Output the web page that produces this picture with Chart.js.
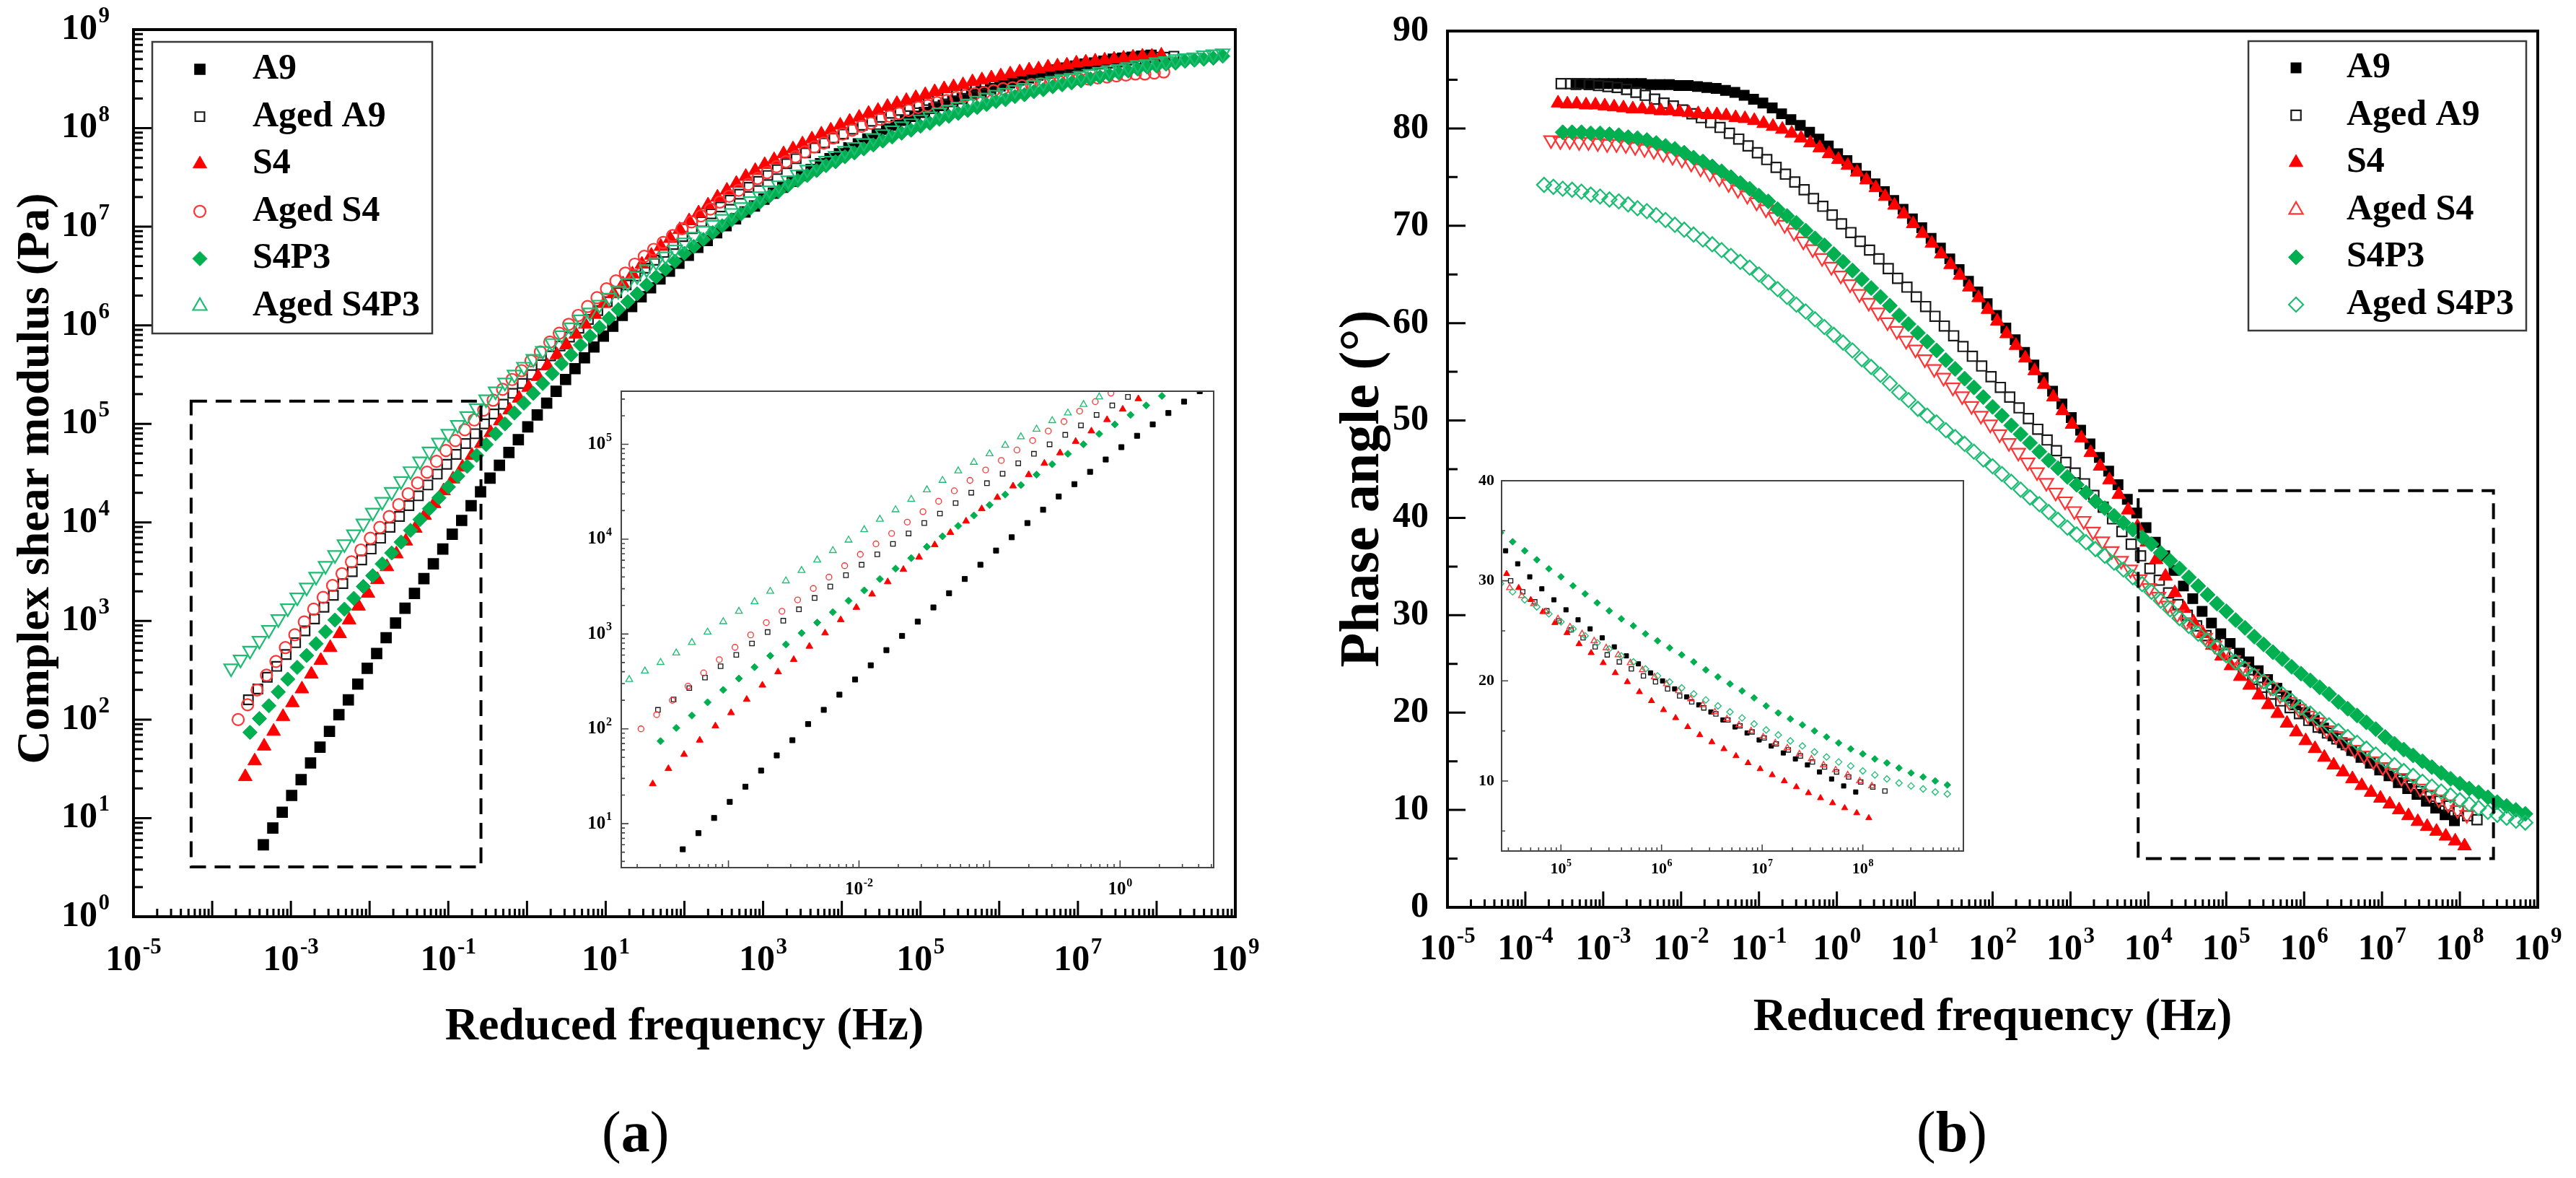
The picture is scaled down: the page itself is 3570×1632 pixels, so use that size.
<!DOCTYPE html>
<html>
<head>
<meta charset="utf-8">
<title>Complex shear modulus and phase angle master curves</title>
<script src="https://cdn.jsdelivr.net/npm/chart.js@4.4.1/dist/chart.umd.min.js"></script>
<style>
  html, body { margin: 0; padding: 0; background: #ffffff; }
  #figura { position: relative; width: 3570px; height: 1632px; overflow: hidden; background: #ffffff; }
  #figura canvas { position: absolute; }
  .rotulo { position: absolute; font-family: "Liberation Serif", "Times New Roman", serif; font-size: 80px; line-height: 1; color: #000; white-space: nowrap; }
</style>
</head>
<body>
<div id="figura">
  <canvas id="graficaModulo" width="1785" height="1632" style="left:0;top:0"></canvas>
  <canvas id="graficaFase" width="1785" height="1632" style="left:1785px;top:0"></canvas>
  <canvas id="insetModulo" width="930" height="740" style="left:780px;top:520px"></canvas>
  <canvas id="insetFase" width="740" height="600" style="left:2010px;top:640px"></canvas>
  <div class="rotulo" style="left:834px;top:1528px">(<b>a</b>)</div>
  <div class="rotulo" style="left:2656px;top:1528px">(<b>b</b>)</div>
</div>
<script>
/* ==========================================================================
   DATOS: log10 frecuencia reducida (Hz), log10 |G*| (Pa), ángulo de fase (°)
   ========================================================================== */
const frecA9 = [-3.35,-3.23,-3.11,-2.99,-2.87,-2.75,-2.63,-2.51,-2.39,-2.27,-2.15,-2.03,-1.91,-1.79,-1.67,-1.55,-1.43,-1.31,-1.19,-1.07,-0.95,-0.83,-0.71,-0.59,-0.47,-0.35,-0.23,-0.11,0.01,0.13,0.25,0.37,0.49,0.61,0.73,0.85,0.97,1.09,1.21,1.33,1.45,1.57,1.69,1.81,1.93,2.05,2.17,2.29,2.41,2.53,2.65,2.77,2.89,3.01,3.13,3.25,3.37,3.49,3.61,3.73,3.85,3.97,4.09,4.21,4.33,4.45,4.57,4.69,4.81,4.93,5.05,5.17,5.29,5.41,5.53,5.65,5.77,5.89,6.01,6.13,6.25,6.37,6.49,6.61,6.73,6.85,6.97,7.09,7.21,7.33,7.45,7.57,7.69,7.81,7.93];
const moduloA9 = [0.73,0.9,1.06,1.23,1.39,1.56,1.72,1.88,2.05,2.2,2.36,2.52,2.67,2.83,2.98,3.13,3.28,3.43,3.58,3.73,3.88,4.02,4.17,4.31,4.45,4.58,4.71,4.84,4.97,5.09,5.21,5.33,5.45,5.56,5.67,5.78,5.89,5.99,6.1,6.19,6.29,6.38,6.47,6.55,6.63,6.71,6.79,6.86,6.94,7.01,7.08,7.15,7.21,7.28,7.34,7.4,7.46,7.52,7.58,7.64,7.69,7.74,7.8,7.84,7.89,7.94,7.99,8.03,8.08,8.12,8.16,8.2,8.23,8.27,8.3,8.34,8.37,8.4,8.43,8.46,8.49,8.51,8.54,8.56,8.59,8.61,8.63,8.65,8.66,8.68,8.7,8.71,8.72,8.73,8.74];
const faseA9 = [84.5,84.6,84.6,84.6,84.6,84.6,84.6,84.6,84.5,84.5,84.5,84.4,84.4,84.3,84.2,84.1,83.9,83.7,83.4,83.0,82.6,82.1,81.5,80.9,80.3,79.6,78.9,78.2,77.4,76.7,75.9,75.1,74.3,73.5,72.6,71.7,70.7,69.8,68.7,67.7,66.6,65.5,64.3,63.2,62.0,60.8,59.5,58.3,57.0,55.7,54.4,53.0,51.7,50.3,49.0,47.6,46.2,44.8,43.4,41.9,40.5,39.0,37.5,36.1,34.6,33.0,31.7,30.4,29.2,28.1,27.1,26.1,25.2,24.3,23.4,22.5,21.7,20.8,20.0,19.2,18.4,17.6,16.9,16.1,15.4,14.8,14.1,13.5,12.8,12.2,11.6,10.9,10.2,9.5,8.9];

const frecA9Env = [-3.54,-3.42,-3.3,-3.18,-3.06,-2.94,-2.82,-2.7,-2.58,-2.46,-2.34,-2.22,-2.1,-1.98,-1.86,-1.74,-1.62,-1.5,-1.38,-1.26,-1.14,-1.02,-0.9,-0.78,-0.66,-0.54,-0.42,-0.3,-0.18,-0.06,0.06,0.18,0.3,0.42,0.54,0.66,0.78,0.9,1.02,1.14,1.26,1.38,1.5,1.62,1.74,1.86,1.98,2.1,2.22,2.34,2.46,2.58,2.7,2.82,2.94,3.06,3.18,3.3,3.42,3.54,3.66,3.78,3.9,4.02,4.14,4.26,4.38,4.5,4.62,4.74,4.86,4.98,5.1,5.22,5.34,5.46,5.58,5.7,5.82,5.94,6.06,6.18,6.3,6.42,6.54,6.66,6.78,6.9,7.02,7.14,7.26,7.38,7.5,7.62,7.74,7.86,7.98,8.1,8.22];
const moduloA9Env = [2.2,2.31,2.43,2.54,2.66,2.78,2.9,3.02,3.14,3.26,3.38,3.5,3.62,3.73,3.84,3.95,4.06,4.17,4.27,4.38,4.49,4.59,4.69,4.8,4.9,5.0,5.1,5.2,5.31,5.41,5.5,5.6,5.69,5.79,5.88,5.97,6.06,6.15,6.24,6.33,6.41,6.5,6.58,6.66,6.74,6.82,6.9,6.98,7.05,7.13,7.2,7.27,7.33,7.4,7.46,7.52,7.58,7.64,7.69,7.75,7.8,7.85,7.9,7.94,7.99,8.03,8.07,8.11,8.15,8.18,8.22,8.25,8.28,8.31,8.34,8.37,8.39,8.42,8.44,8.47,8.49,8.51,8.53,8.55,8.56,8.58,8.6,8.61,8.63,8.64,8.65,8.66,8.67,8.69,8.7,8.71,8.72,8.72,8.73];
const faseA9Env = [84.6,84.6,84.6,84.5,84.4,84.3,84.2,84.0,83.7,83.4,83.0,82.6,82.3,81.9,81.5,81.1,80.6,80.1,79.5,78.9,78.2,77.5,76.8,76.0,75.3,74.5,73.7,72.8,72.0,71.1,70.2,69.3,68.4,67.5,66.6,65.6,64.6,63.7,62.7,61.7,60.7,59.7,58.7,57.6,56.6,55.6,54.5,53.4,52.4,51.3,50.2,49.1,48.0,46.9,45.7,44.6,43.5,42.3,41.1,39.9,38.6,37.3,36.1,34.8,33.6,32.3,31.1,30.0,28.9,27.9,27.0,26.0,25.1,24.3,23.4,22.6,21.9,21.2,20.5,19.9,19.2,18.5,17.9,17.3,16.7,16.1,15.5,14.9,14.3,13.7,13.1,12.5,11.9,11.4,10.9,10.4,9.9,9.4,9.0];

const frecS4 = [-3.58,-3.46,-3.34,-3.22,-3.1,-2.98,-2.86,-2.74,-2.62,-2.5,-2.38,-2.26,-2.14,-2.02,-1.9,-1.78,-1.66,-1.54,-1.42,-1.3,-1.18,-1.06,-0.94,-0.82,-0.7,-0.58,-0.46,-0.34,-0.22,-0.1,0.02,0.14,0.26,0.38,0.5,0.62,0.74,0.86,0.98,1.1,1.22,1.34,1.46,1.58,1.7,1.82,1.94,2.06,2.18,2.3,2.42,2.54,2.66,2.78,2.9,3.02,3.14,3.26,3.38,3.5,3.62,3.74,3.86,3.98,4.1,4.22,4.34,4.46,4.58,4.7,4.82,4.94,5.06,5.18,5.3,5.42,5.54,5.66,5.78,5.9,6.02,6.14,6.26,6.38,6.5,6.62,6.74,6.86,6.98,7.1,7.22,7.34,7.46,7.58,7.7,7.82,7.94,8.06];
const moduloS4 = [1.42,1.58,1.73,1.88,2.03,2.17,2.31,2.46,2.6,2.73,2.87,3.01,3.15,3.28,3.42,3.55,3.68,3.81,3.94,4.07,4.19,4.32,4.44,4.56,4.68,4.8,4.91,5.03,5.14,5.26,5.37,5.48,5.59,5.7,5.8,5.91,6.01,6.11,6.22,6.32,6.42,6.52,6.62,6.71,6.8,6.88,6.97,7.06,7.14,7.22,7.3,7.37,7.44,7.51,7.57,7.63,7.68,7.74,7.79,7.84,7.89,7.94,7.98,8.03,8.07,8.11,8.15,8.18,8.22,8.25,8.28,8.31,8.34,8.37,8.4,8.42,8.44,8.47,8.49,8.51,8.53,8.55,8.57,8.59,8.6,8.62,8.63,8.64,8.66,8.67,8.68,8.69,8.7,8.71,8.72,8.73,8.73,8.74];
const faseS4 = [82.6,82.5,82.5,82.4,82.4,82.3,82.2,82.1,82.0,82.0,81.9,81.8,81.8,81.7,81.6,81.5,81.4,81.4,81.3,81.1,81.0,80.8,80.5,80.2,79.9,79.5,79.0,78.5,78.0,77.4,76.8,76.2,75.5,74.7,73.9,73.0,72.1,71.2,70.2,69.2,68.2,67.1,66.0,64.9,63.7,62.6,61.4,60.2,58.9,57.7,56.4,55.1,53.7,52.4,51.0,49.6,48.2,46.7,45.3,43.9,42.4,40.8,39.1,37.5,35.7,34.0,32.3,30.7,29.3,28.1,26.9,25.8,24.8,23.7,22.8,21.8,20.8,19.9,18.9,18.0,17.1,16.3,15.4,14.6,13.9,13.2,12.5,11.8,11.2,10.6,10.0,9.4,8.8,8.3,7.8,7.3,6.8,6.3];

const frecS4Env = [-3.67,-3.55,-3.43,-3.31,-3.19,-3.07,-2.95,-2.83,-2.71,-2.59,-2.47,-2.35,-2.23,-2.11,-1.99,-1.87,-1.75,-1.63,-1.51,-1.39,-1.27,-1.15,-1.03,-0.91,-0.79,-0.67,-0.55,-0.43,-0.31,-0.19,-0.07,0.05,0.17,0.29,0.41,0.53,0.65,0.77,0.89,1.01,1.13,1.25,1.37,1.49,1.61,1.73,1.85,1.97,2.09,2.21,2.33,2.45,2.57,2.69,2.81,2.93,3.05,3.17,3.29,3.41,3.53,3.65,3.77,3.89,4.01,4.13,4.25,4.37,4.49,4.61,4.73,4.85,4.97,5.09,5.21,5.33,5.45,5.57,5.69,5.81,5.93,6.05,6.17,6.29,6.41,6.53,6.65,6.77,6.89,7.01,7.13,7.25,7.37,7.49,7.61,7.73,7.85,7.97,8.09];
const moduloS4Env = [2.0,2.15,2.3,2.45,2.59,2.73,2.86,2.99,3.12,3.24,3.36,3.48,3.6,3.72,3.84,3.95,4.06,4.18,4.29,4.4,4.51,4.62,4.73,4.83,4.94,5.04,5.14,5.24,5.35,5.45,5.54,5.64,5.73,5.83,5.92,6.01,6.1,6.19,6.28,6.37,6.45,6.53,6.62,6.7,6.77,6.84,6.91,6.98,7.05,7.11,7.18,7.25,7.31,7.37,7.43,7.49,7.55,7.61,7.66,7.71,7.76,7.81,7.85,7.9,7.94,7.98,8.02,8.05,8.09,8.12,8.15,8.18,8.21,8.23,8.26,8.28,8.31,8.33,8.35,8.36,8.38,8.4,8.41,8.43,8.44,8.45,8.46,8.47,8.49,8.5,8.5,8.51,8.52,8.53,8.54,8.55,8.55,8.56,8.57];
const faseS4Env = [78.8,78.7,78.7,78.6,78.6,78.5,78.4,78.4,78.3,78.1,77.9,77.7,77.4,77.1,76.8,76.4,75.9,75.4,74.9,74.3,73.7,73.1,72.4,71.7,70.9,70.1,69.3,68.4,67.6,66.7,65.8,64.9,64.0,63.0,62.1,61.1,60.1,59.2,58.2,57.3,56.3,55.3,54.4,53.4,52.5,51.5,50.5,49.6,48.6,47.7,46.7,45.7,44.7,43.6,42.6,41.7,40.7,39.7,38.6,37.6,36.6,35.6,34.7,33.7,32.8,31.9,31.0,30.1,29.3,28.5,27.7,26.9,26.2,25.4,24.7,24.0,23.3,22.6,21.8,21.1,20.4,19.7,19.0,18.2,17.6,16.9,16.2,15.6,15.0,14.4,13.8,13.3,12.7,12.2,11.6,11.1,10.6,10.0,9.5];

const frecS4P3 = [-3.52,-3.4,-3.28,-3.16,-3.04,-2.92,-2.8,-2.68,-2.56,-2.44,-2.32,-2.2,-2.08,-1.96,-1.84,-1.72,-1.6,-1.48,-1.36,-1.24,-1.12,-1.0,-0.88,-0.76,-0.64,-0.52,-0.4,-0.28,-0.16,-0.04,0.08,0.2,0.32,0.44,0.56,0.68,0.8,0.92,1.04,1.16,1.28,1.4,1.52,1.64,1.76,1.88,2.0,2.12,2.24,2.36,2.48,2.6,2.72,2.84,2.96,3.08,3.2,3.32,3.44,3.56,3.68,3.8,3.92,4.04,4.16,4.28,4.4,4.52,4.64,4.76,4.88,5.0,5.12,5.24,5.36,5.48,5.6,5.72,5.84,5.96,6.08,6.2,6.32,6.44,6.56,6.68,6.8,6.92,7.04,7.16,7.28,7.4,7.52,7.64,7.76,7.88,8.0,8.12,8.24,8.36,8.48,8.6,8.72,8.84];
const moduloS4P3 = [1.87,2.01,2.14,2.28,2.41,2.53,2.65,2.77,2.89,3.01,3.12,3.23,3.35,3.46,3.58,3.69,3.8,3.92,4.03,4.14,4.25,4.36,4.47,4.57,4.68,4.79,4.9,5.0,5.11,5.21,5.31,5.41,5.51,5.61,5.7,5.8,5.89,5.98,6.07,6.16,6.24,6.32,6.41,6.49,6.57,6.65,6.73,6.8,6.87,6.94,7.01,7.07,7.13,7.19,7.25,7.31,7.36,7.42,7.47,7.52,7.57,7.62,7.66,7.71,7.75,7.79,7.83,7.87,7.91,7.95,7.98,8.02,8.05,8.09,8.12,8.15,8.18,8.21,8.24,8.27,8.29,8.32,8.34,8.37,8.39,8.42,8.44,8.46,8.48,8.5,8.52,8.54,8.56,8.58,8.6,8.62,8.63,8.65,8.66,8.68,8.69,8.7,8.71,8.73];
const faseS4P3 = [79.6,79.6,79.6,79.5,79.5,79.4,79.3,79.1,79.0,78.8,78.5,78.2,77.9,77.5,77.0,76.6,76.1,75.6,75.0,74.4,73.8,73.1,72.5,71.7,71.0,70.3,69.5,68.7,68.0,67.1,66.3,65.4,64.5,63.6,62.7,61.8,60.8,59.9,59.0,58.1,57.2,56.2,55.3,54.3,53.4,52.4,51.4,50.5,49.5,48.6,47.7,46.8,45.9,45.1,44.2,43.4,42.6,41.7,41.0,40.2,39.5,38.8,38.0,37.3,36.4,35.6,34.8,33.9,33.0,32.1,31.2,30.4,29.5,28.7,27.8,27.0,26.2,25.5,24.7,24.0,23.3,22.6,21.9,21.1,20.4,19.7,19.0,18.3,17.5,16.8,16.2,15.6,15.0,14.4,13.8,13.2,12.7,12.2,11.8,11.3,10.8,10.4,10.0,9.6];

const frecS4P3Env = [-3.76,-3.64,-3.52,-3.4,-3.28,-3.16,-3.04,-2.92,-2.8,-2.68,-2.56,-2.44,-2.32,-2.2,-2.08,-1.96,-1.84,-1.72,-1.6,-1.48,-1.36,-1.24,-1.12,-1.0,-0.88,-0.76,-0.64,-0.52,-0.4,-0.28,-0.16,-0.04,0.08,0.2,0.32,0.44,0.56,0.68,0.8,0.92,1.04,1.16,1.28,1.4,1.52,1.64,1.76,1.88,2.0,2.12,2.24,2.36,2.48,2.6,2.72,2.84,2.96,3.08,3.2,3.32,3.44,3.56,3.68,3.8,3.92,4.04,4.16,4.28,4.4,4.52,4.64,4.76,4.88,5.0,5.12,5.24,5.36,5.48,5.6,5.72,5.84,5.96,6.08,6.2,6.32,6.44,6.56,6.68,6.8,6.92,7.04,7.16,7.28,7.4,7.52,7.64,7.76,7.88,8.0,8.12,8.24,8.36,8.48,8.6,8.72,8.84];
const moduloS4P3Env = [2.52,2.61,2.7,2.8,2.91,3.02,3.13,3.24,3.34,3.45,3.56,3.67,3.78,3.88,3.99,4.1,4.21,4.31,4.42,4.52,4.62,4.72,4.81,4.9,4.99,5.08,5.16,5.25,5.33,5.42,5.5,5.58,5.66,5.74,5.82,5.9,5.98,6.06,6.13,6.21,6.28,6.35,6.43,6.5,6.57,6.64,6.7,6.77,6.84,6.9,6.96,7.02,7.08,7.14,7.2,7.26,7.31,7.37,7.42,7.47,7.53,7.58,7.63,7.67,7.72,7.77,7.81,7.85,7.9,7.94,7.98,8.02,8.05,8.09,8.12,8.16,8.19,8.22,8.25,8.28,8.31,8.34,8.36,8.39,8.41,8.44,8.46,8.48,8.5,8.51,8.53,8.55,8.57,8.59,8.6,8.62,8.64,8.65,8.67,8.68,8.7,8.71,8.72,8.74,8.75,8.76];
const faseS4P3Env = [74.2,74.0,73.8,73.7,73.5,73.2,73.0,72.7,72.5,72.2,71.8,71.5,71.1,70.6,70.1,69.6,69.1,68.6,68.1,67.5,66.9,66.3,65.7,65.0,64.2,63.5,62.7,61.9,61.2,60.4,59.6,58.8,58.0,57.2,56.3,55.5,54.7,53.8,52.9,52.1,51.2,50.5,49.8,49.0,48.3,47.6,46.8,46.0,45.3,44.5,43.7,42.9,42.1,41.4,40.6,39.8,39.0,38.3,37.5,36.8,36.1,35.4,34.7,33.9,33.2,32.4,31.5,30.6,29.7,28.9,28.1,27.4,26.7,25.9,25.2,24.5,23.8,23.2,22.5,21.9,21.2,20.5,19.9,19.3,18.7,18.1,17.5,16.9,16.3,15.7,15.1,14.6,14.0,13.5,12.9,12.4,11.9,11.5,11.0,10.6,10.2,9.8,9.5,9.2,8.9,8.7];

const nombresMuestras = ['A9', 'Aged A9', 'S4', 'Aged S4', 'S4P3', 'Aged S4P3'];

// Etiquetas de los ejes (exponentes de 10 o valores lineales)
const etiquetasModulo = [0, 1, 2, 3, 4, 5, 6, 7, 8, 9];
const etiquetasFrecA = [-5, -3, -1, 1, 3, 5, 7, 9];
const etiquetasFrecB = [-5, -4, -3, -2, -1, 0, 1, 2, 3, 4, 5, 6, 7, 8, 9];
const etiquetasFase = [0, 10, 20, 30, 40, 50, 60, 70, 80, 90];
const etiquetasModuloInset = [1, 2, 3, 4, 5];
const etiquetasFrecInsetA = [-2, 0];
const etiquetasFrecInsetB = [5, 6, 7, 8];
const etiquetasFaseInset = [10, 20, 30, 40];

// Recuadros discontinuos de la zona ampliada: [fMin, fMax, yMin, yMax]
const recuadroA = [5.4e-5, 0.26, 3.2, 1.7e5];
const recuadroB = [7.4e3, 2.7e8, 5.0, 42.8];

/* ==========================================================================
   ESTILOS Y UTILIDADES
   ========================================================================== */
const SERIF = '"Liberation Serif", "Times New Roman", Times, serif';
Chart.defaults.font.family = SERIF;

const series = [
    { frec: frecA9, modulo: moduloA9, fase: faseA9 },
    { frec: frecA9Env, modulo: moduloA9Env, fase: faseA9Env },
    { frec: frecS4, modulo: moduloS4, fase: faseS4 },
    { frec: frecS4Env, modulo: moduloS4Env, fase: faseS4Env },
    { frec: frecS4P3, modulo: moduloS4P3, fase: faseS4P3 },
    { frec: frecS4P3Env, modulo: moduloS4P3Env, fase: faseS4P3Env }
];

const estilos = [
    { color: '#000000', relleno: true,  formaA: 'rect',     formaB: 'rect',     giroA: 0,   giroB: 0,   radioA: 10, radioB: 9.5,  borde: 1.5, orden: 6 },
    { color: '#1a1a1a', relleno: false, formaA: 'rect',     formaB: 'rect',     giroA: 0,   giroB: 0,   radioA: 9,  radioB: 9.5,  borde: 2.2, orden: 5 },
    { color: '#ff0000', relleno: true,  formaA: 'triangle', formaB: 'triangle', giroA: 0,   giroB: 0,   radioA: 11, radioB: 11,   borde: 1,   orden: 4 },
    { color: '#ff3434', relleno: false, formaA: 'circle',   formaB: 'triangle', giroA: 0,   giroB: 180, radioA: 8,  radioB: 11,   borde: 2.2, orden: 3 },
    { color: '#00b050', relleno: true,  formaA: 'rectRot',  formaB: 'rectRot',  giroA: 0,   giroB: 0,   radioA: 10, radioB: 10.5, borde: 1,   orden: 2 },
    { color: '#1cbd73', relleno: false, formaA: 'triangle', formaB: 'rectRot',  giroA: 180, giroB: 0,   radioA: 11, radioB: 10,   borde: 2.2, orden: 1 }
];

function crearDatasets(panel, escala, enInset) {
    return series.map((s, i) => {
        const e = estilos[i];
        const esModulo = panel === 'A';
        const valores = esModulo ? s.modulo : s.fase;
        const puntos = s.frec.map((f, j) => ({
            x: Math.pow(10, f),
            y: esModulo ? Math.pow(10, valores[j]) : valores[j]
        }));
        const radio = (esModulo ? e.radioA : e.radioB) * escala;
        const ds = {
            label: nombresMuestras[i],
            data: puntos,
            showLine: false,
            pointStyle: esModulo ? e.formaA : e.formaB,
            pointRotation: enInset ? 0 : (esModulo ? e.giroA : e.giroB),
            pointRadius: radio,
            pointHoverRadius: radio,
            pointBackgroundColor: e.relleno ? e.color : 'rgba(0,0,0,0)',
            pointBorderColor: e.color,
            pointBorderWidth: enInset ? Math.max(1, e.borde * 0.6) : e.borde,
            order: e.orden
        };
        if (enInset) ds.clip = 0;
        return ds;
    });
}

function marcasLog(eMin, eMax, vMin, vMax, largoMayor, largoMenor) {
    const marcas = [];
    for (let e = eMin; e <= eMax; e++) {
        const base = Math.pow(10, e);
        if (base >= vMin * 0.999 && base <= vMax * 1.001) marcas.push({ v: base, largo: largoMayor });
        for (let k = 2; k <= 9; k++) {
            const v = k * base;
            if (v >= vMin && v <= vMax) marcas.push({ v: v, largo: largoMenor });
        }
    }
    return marcas;
}

function marcasLineales(min, max, paso, cadaMayor, largoMayor, largoMenor) {
    const marcas = [];
    for (let v = min; v <= max + 1e-9; v += paso) {
        const esMayor = Math.abs(v / cadaMayor - Math.round(v / cadaMayor)) < 1e-6;
        marcas.push({ v: v, largo: esMayor ? largoMayor : largoMenor });
    }
    return marcas;
}

function dibujarPotencia(ctx, x, y, exponente, tam, alineacion) {
    const fuenteBase = `bold ${tam}px ${SERIF}`;
    const fuenteExp = `bold ${Math.round(tam * 0.62)}px ${SERIF}`;
    const textoExp = String(exponente);
    ctx.font = fuenteBase;
    const anchoBase = ctx.measureText('10').width;
    ctx.font = fuenteExp;
    const anchoExp = ctx.measureText(textoExp).width;
    const hueco = tam * 0.03;
    const total = anchoBase + hueco + anchoExp;
    const x0 = alineacion === 'right' ? x - total : x - total / 2;
    ctx.textAlign = 'left';
    ctx.textBaseline = 'middle';
    ctx.font = fuenteBase;
    ctx.fillText('10', x0, y);
    ctx.font = fuenteExp;
    ctx.fillText(textoExp, x0 + anchoBase + hueco, y - tam * 0.36);
}

function dibujarTexto(ctx, x, y, texto, tam, alineacion) {
    ctx.font = `bold ${tam}px ${SERIF}`;
    ctx.textAlign = alineacion;
    ctx.textBaseline = 'middle';
    ctx.fillText(texto, x, y);
}

/* ==========================================================================
   PLUGIN: MARCO, MARCAS HACIA DENTRO, ETIQUETAS, TÍTULOS Y LEYENDA
   ========================================================================== */
const decoracion = {
    id: 'decoracion',
    afterDatasetsDraw(chart, args, op) {
        const ctx = chart.ctx;
        const area = chart.chartArea;
        const ex = chart.scales.x;
        const ey = chart.scales.y;
        ctx.save();

        if (op.recuadro) {
            const [x0, x1, y0, y1] = op.recuadro;
            const px0 = ex.getPixelForValue(x0);
            const px1 = ex.getPixelForValue(x1);
            const py0 = ey.getPixelForValue(y0);
            const py1 = ey.getPixelForValue(y1);
            ctx.setLineDash([22, 12]);
            ctx.lineWidth = 4;
            ctx.strokeStyle = '#000';
            ctx.strokeRect(px0, py1, px1 - px0, py0 - py1);
            ctx.setLineDash([]);
        }

        ctx.strokeStyle = op.colorEje;
        ctx.lineWidth = op.grosorMarca;
        ctx.beginPath();
        op.marcasX.forEach(m => {
            const p = ex.getPixelForValue(m.v);
            ctx.moveTo(p, area.bottom);
            ctx.lineTo(p, area.bottom - m.largo);
        });
        op.marcasY.forEach(m => {
            const p = ey.getPixelForValue(m.v);
            ctx.moveTo(area.left, p);
            ctx.lineTo(area.left + m.largo, p);
        });
        ctx.stroke();

        ctx.lineWidth = op.grosorMarco;
        ctx.strokeRect(area.left, area.top, area.right - area.left, area.bottom - area.top);

        ctx.fillStyle = '#000';
        op.etiquetasX.forEach(et => {
            const px = ex.getPixelForValue(et.v);
            if (et.exp !== undefined) dibujarPotencia(ctx, px, area.bottom + op.sepX, et.exp, op.tamEtiqueta, 'center');
            else dibujarTexto(ctx, px, area.bottom + op.sepX, et.texto, op.tamEtiqueta, 'center');
        });
        op.etiquetasY.forEach(et => {
            const py = ey.getPixelForValue(et.v);
            if (et.exp !== undefined) dibujarPotencia(ctx, area.left - op.sepY, py, et.exp, op.tamEtiqueta, 'right');
            else dibujarTexto(ctx, area.left - op.sepY, py, et.texto, op.tamEtiqueta, 'right');
        });

        if (op.tituloX) {
            ctx.font = `bold ${op.tituloX.tam}px ${SERIF}`;
            ctx.textAlign = 'center';
            ctx.textBaseline = 'alphabetic';
            ctx.fillText(op.tituloX.texto, (area.left + area.right) / 2, area.bottom + op.tituloX.sep);
        }
        if (op.tituloY) {
            ctx.save();
            ctx.translate(area.left - op.tituloY.sep, area.top + op.tituloY.centro);
            ctx.rotate(-Math.PI / 2);
            ctx.font = `bold ${op.tituloY.tam}px ${SERIF}`;
            ctx.textAlign = 'center';
            ctx.textBaseline = 'alphabetic';
            ctx.fillText(op.tituloY.texto, 0, 0);
            ctx.restore();
        }

        if (op.leyenda) {
            const L = op.leyenda;
            ctx.lineWidth = 2.5;
            ctx.strokeStyle = '#3a3a3a';
            ctx.strokeRect(L.x, L.y, L.ancho, L.alto);
            chart.data.datasets.forEach((ds, i) => {
                const yFila = L.primeraFila + i * L.paso;
                ctx.fillStyle = ds.pointBackgroundColor;
                ctx.strokeStyle = ds.pointBorderColor;
                ctx.lineWidth = ds.pointBorderWidth;
                Chart.helpers.drawPoint(ctx, {
                    pointStyle: ds.pointStyle,
                    rotation: 0,
                    radius: ds.pointRadius,
                    borderWidth: ds.pointBorderWidth
                }, L.xMarca, yFila);
                ctx.fillStyle = '#000';
                ctx.font = `bold ${L.tam}px ${SERIF}`;
                ctx.textAlign = 'left';
                ctx.textBaseline = 'middle';
                ctx.fillText(ds.label, L.xTexto, yFila);
            });
        }
        ctx.restore();
    }
};

function crearGrafica(idCanvas, datasets, escalaX, escalaY, relleno, deco) {
    return new Chart(document.getElementById(idCanvas), {
        type: 'scatter',
        data: { datasets: datasets },
        options: {
            responsive: false,
            animation: false,
            devicePixelRatio: 1,
            events: [],
            layout: { padding: relleno },
            plugins: { legend: { display: false }, tooltip: { enabled: false }, decoracion: deco },
            scales: { x: Object.assign({ display: false }, escalaX), y: Object.assign({ display: false }, escalaY) }
        },
        plugins: [decoracion]
    });
}

/* ==========================================================================
   PANEL (a): MÓDULO COMPLEJO
   ========================================================================== */
crearGrafica('graficaModulo', crearDatasets('A', 1, false),
    { type: 'logarithmic', min: 1e-5, max: 1e9 },
    { type: 'logarithmic', min: 1, max: 1e9 },
    { left: 185, top: 41, right: 73, bottom: 362 },
    {
        recuadro: recuadroA,
        colorEje: '#000', grosorMarca: 3, grosorMarco: 4,
        marcasX: marcasLog(-5, 9, 1e-5, 1e9, 22, 11),
        marcasY: marcasLog(0, 9, 1, 1e9, 25, 13),
        etiquetasX: etiquetasFrecA.map(e => ({ v: Math.pow(10, e), exp: e })),
        etiquetasY: etiquetasModulo.map(e => ({ v: Math.pow(10, e), exp: e })),
        tamEtiqueta: 50, sepX: 61, sepY: 33,
        tituloX: { texto: 'Reduced frequency (Hz)', tam: 64, sep: 170 },
        tituloY: { texto: 'Complex shear modulus (Pa)', tam: 64, sep: 118, centro: 622 },
        leyenda: { x: 211, y: 58, ancho: 388, alto: 404, primeraFila: 96, paso: 65.6, xMarca: 277, xTexto: 350, tam: 50 }
    });

crearGrafica('insetModulo', crearDatasets('A', 0.5, true),
    { type: 'logarithmic', min: 1.51e-4, max: 5.21 },
    { type: 'logarithmic', min: 3.44, max: 3.63e5 },
    { left: 81, top: 22, right: 28, bottom: 58 },
    {
        colorEje: '#444', grosorMarca: 1.6, grosorMarco: 2,
        marcasX: marcasLog(-4, 0, 1.51e-4, 5.21, 10, 5),
        marcasY: marcasLog(0, 5, 3.44, 3.63e5, 10, 5),
        etiquetasX: etiquetasFrecInsetA.map(e => ({ v: Math.pow(10, e), exp: e })),
        etiquetasY: etiquetasModuloInset.map(e => ({ v: Math.pow(10, e), exp: e })),
        tamEtiqueta: 25, sepX: 31, sepY: 13
    });

/* ==========================================================================
   PANEL (b): ÁNGULO DE FASE
   ========================================================================== */
crearGrafica('graficaFase', crearDatasets('B', 1, false),
    { type: 'logarithmic', min: 1e-5, max: 1e9 },
    { type: 'linear', min: 0, max: 90 },
    { left: 221, top: 43, right: 53, bottom: 375 },
    {
        recuadro: recuadroB,
        colorEje: '#000', grosorMarca: 3, grosorMarco: 4,
        marcasX: marcasLog(-5, 9, 1e-5, 1e9, 22, 11),
        marcasY: marcasLineales(0, 90, 5, 10, 25, 14),
        etiquetasX: etiquetasFrecB.map(e => ({ v: Math.pow(10, e), exp: e })),
        etiquetasY: etiquetasFase.map(v => ({ v: v, texto: String(v) })),
        tamEtiqueta: 50, sepX: 59, sepY: 26,
        tituloX: { texto: 'Reduced frequency (Hz)', tam: 64, sep: 170 },
        tituloY: { texto: 'Phase angle (°)', tam: 78, sep: 96, centro: 634 },
        leyenda: { x: 1331, y: 57, ancho: 385, alto: 401, primeraFila: 94, paso: 65.6, xMarca: 1397, xTexto: 1467, tam: 50 }
    });

crearGrafica('insetFase', crearDatasets('B', 0.45, true),
    { type: 'logarithmic', min: 2.57e4, max: 1e9 },
    { type: 'linear', min: 3, max: 40 },
    { left: 71, top: 26, right: 29, bottom: 61 },
    {
        colorEje: '#444', grosorMarca: 1.6, grosorMarco: 2,
        marcasX: marcasLog(4, 9, 2.57e4, 1e9, 9, 5),
        marcasY: marcasLineales(5, 40, 5, 10, 9, 5),
        etiquetasX: etiquetasFrecInsetB.map(e => ({ v: Math.pow(10, e), exp: e })),
        etiquetasY: etiquetasFaseInset.map(v => ({ v: v, texto: String(v) })),
        tamEtiqueta: 22, sepX: 25, sepY: 10
    });
</script>
</body>
</html>
